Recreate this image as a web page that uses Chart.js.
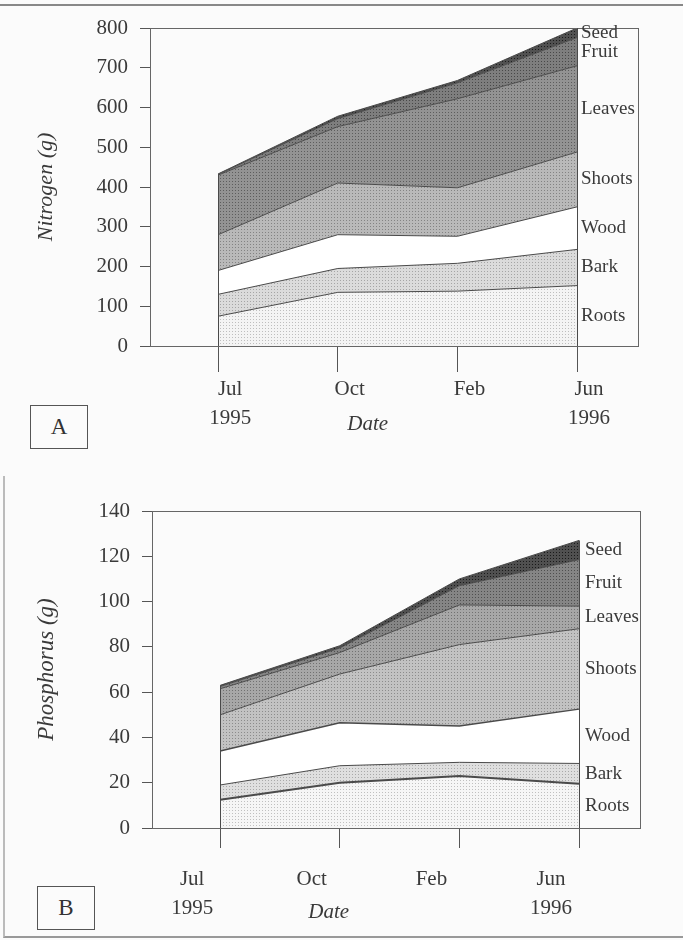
<!DOCTYPE html>
<html>
<head>
<meta charset="utf-8">
<script src="https://cdn.jsdelivr.net/npm/chart.js@4.4.0/dist/chart.umd.min.js"></script>
<style>
html,body{margin:0;padding:0;background:#fbfbfb;width:683px;height:940px;overflow:hidden;position:relative;}
canvas{position:absolute;left:0;}
#ca{top:0;}
#cb{top:470px;}
.ruleTop{position:absolute;left:0;top:4px;width:683px;height:0;border-top:2px solid #888;}
.frameB{position:absolute;left:3px;top:476px;width:700px;height:460px;border-left:2px solid #bbb;border-bottom:2px solid #999;}
.tag{position:absolute;border:1.5px solid #555;font:23px "Liberation Serif";color:#333;display:flex;align-items:center;justify-content:center;box-sizing:border-box;background:#fbfbfb;}
</style>
</head>
<body>
<div class="ruleTop"></div>
<div class="frameB"></div>
<canvas id="ca" width="683" height="470"></canvas>
<canvas id="cb" width="683" height="470"></canvas>
<div class="tag" style="left:30px;top:405px;width:58px;height:44px;">A</div>
<div class="tag" style="left:37px;top:886px;width:58px;height:44px;">B</div>
<script>
// ---- data ----
const categories = [['Jul','1995'],['Oct'],['Feb'],['Jun','1996']];
const seriesNames = ['Roots','Bark','Wood','Shoots','Leaves','Fruit','Seed'];

// Nitrogen (g), panel A
const nRoots  = [75, 135, 138, 152];
const nBark   = [55, 60, 70, 91];
const nWood   = [60, 85, 68, 107];
const nShoots = [90, 130, 122, 138];
const nLeaves = [150, 142, 224, 217];
const nFruit  = [2, 20, 40, 71];
const nSeed   = [1, 6, 6, 24];

// Phosphorus (g), panel B
const pRoots  = [12.5, 20, 23, 19.5];
const pBark   = [6.5, 7.5, 6, 9];
const pWood   = [15, 19, 16, 24];
const pShoots = [16, 21.5, 36, 35.5];
const pLeaves = [11.5, 9.5, 17.5, 10];
const pFruit  = [1, 2, 8.5, 20.5];
const pSeed   = [0.5, 1, 3, 8.5];

const nTicks = [0,100,200,300,400,500,600,700,800];
const pTicks = [0,20,40,60,80,100,120,140];

const greysA = [238, 213, 255, 179, 141, 120, 75];
const greysB = [240, 217, 255, 188, 161, 127, 74];

const SERIF = '"Liberation Serif", "DejaVu Serif", serif';
const INK = '#3a3a3a';
const LINE = '#555';

function grey(v) { v = Math.max(0, Math.min(255, Math.round(v))); return 'rgb(' + v + ',' + v + ',' + v + ')'; }
// fine halftone-like stipple whose mean tone equals the target grey
function stipple(v) {
  if (v >= 250) return '#ffffff';
  const c = document.createElement('canvas');
  c.width = 3; c.height = 3;
  const g = c.getContext('2d');
  const d = Math.min(48, v);
  g.fillStyle = grey(v + d / 8);
  g.fillRect(0, 0, 3, 3);
  g.fillStyle = grey(v - d);
  g.fillRect(1, 1, 1, 1);
  return g.createPattern(c, 'repeat');
}

function makeDatasets(series, greys, borderWidths) {
  return series.map((vals, k) => ({
    label: seriesNames[k],
    data: vals.map((v, i) => ({x: i, y: v})),
    backgroundColor: stipple(greys[k]),
    borderColor: '#4a4a4a',
    borderWidth: borderWidths[k],
    fill: k === 0 ? 'origin' : '-1',
    pointRadius: 0,
    tension: 0
  }));
}

const decor = {
  id: 'decor',
  afterDatasetsDraw(chart, args, opts) {
    const {ctx, chartArea: a, scales: {x, y}} = chart;
    const ds = chart.data.datasets;
    ctx.save();
    ctx.strokeStyle = '#666';
    ctx.lineWidth = 1;
    ctx.strokeRect(a.left + 0.5, a.top + 0.5, a.right - a.left, a.bottom - a.top);
    // vertical edges of the stacked areas
    ctx.strokeStyle = '#4a4a4a';
    [0, categories.length - 1].forEach(i => {
      let total = 0;
      ds.forEach(d => total += d.data[i].y);
      const px = Math.round(x.getPixelForValue(i)) + 0.5;
      ctx.beginPath();
      ctx.moveTo(px, y.getPixelForValue(0));
      ctx.lineTo(px, y.getPixelForValue(total));
      ctx.stroke();
    });
    // series names at the right end
    const last = categories.length - 1;
    ctx.font = '19px ' + SERIF;
    ctx.fillStyle = INK;
    ctx.textAlign = 'left';
    ctx.textBaseline = 'middle';
    let cum = 0;
    ds.forEach(d => {
      const v = d.data[last].y;
      ctx.fillText(d.label, x.getPixelForValue(last) + opts.nameDx, y.getPixelForValue(cum + v / 2));
      cum += v;
    });
    // axis title "Date"
    ctx.font = 'italic 21px ' + SERIF;
    ctx.textAlign = 'center';
    ctx.fillText('Date', x.getPixelForValue(1) + opts.dateDx, a.bottom + opts.dateDy);
    ctx.restore();
  }
};

function makeChart(id, series, greys, widths, yTitle, yMax, yStep, cfg) {
  return new Chart(document.getElementById(id), {
    type: 'line',
    data: {datasets: makeDatasets(series, greys, widths)},
    plugins: [decor],
    options: {
      responsive: false,
      animation: false,
      devicePixelRatio: 1,
      layout: {padding: {left: 0, right: cfg.padRight, top: cfg.padTop, bottom: 0}},
      plugins: {
        legend: {display: false},
        tooltip: {enabled: false},
        decor: {nameDx: cfg.nameDx, dateDx: cfg.dateDx, dateDy: cfg.dateDy}
      },
      scales: {
        x: {
          type: 'linear',
          min: -0.57,
          max: 3.51,
          afterBuildTicks: s => { s.ticks = categories.map((c, i) => ({value: i})); },
          afterFit: s => { s.height = cfg.xHeight; },
          border: {display: true, color: LINE, width: 1},
          grid: {drawOnChartArea: false, drawTicks: true, tickLength: cfg.xTick, tickColor: LINE},
          ticks: {
            callback: v => categories[v],
            autoSkip: false,
            maxRotation: 0,
            padding: cfg.xPad,
            labelOffset: cfg.labelOffset,
            color: INK,
            font: {family: SERIF, size: 21, lineHeight: 1.38}
          }
        },
        y: {
          stacked: true,
          min: 0,
          max: yMax,
          afterFit: s => { s.width = cfg.yWidth; },
          border: {display: true, color: LINE, width: 1},
          grid: {drawOnChartArea: false, drawTicks: true, tickLength: 10, tickColor: LINE},
          ticks: {stepSize: yStep, padding: 12, color: INK, font: {family: SERIF, size: 21}},
          title: {
            display: true,
            text: yTitle,
            color: INK,
            padding: {top: cfg.titlePad, bottom: 0},
            font: {family: SERIF, size: cfg.titleSize, style: 'italic'}
          }
        }
      }
    }
  });
}

makeChart('ca',
  [nRoots, nBark, nWood, nShoots, nLeaves, nFruit, nSeed],
  greysA, [1,1,1,1,1,1,1],
  'Nitrogen (g)', nTicks[nTicks.length - 1], nTicks[1] - nTicks[0],
  {padRight: 45, padTop: 28, xHeight: 124, xTick: 26, xPad: 3, labelOffset: 12,
   yWidth: 150, titlePad: 33, titleSize: 22, nameDx: 4, dateDx: 30, dateDy: 78});

makeChart('cb',
  [pRoots, pBark, pWood, pShoots, pLeaves, pFruit, pSeed],
  greysB, [2,1,1.5,1,1,1,1],
  'Phosphorus (g)', pTicks[pTicks.length - 1], pTicks[1] - pTicks[0],
  {padRight: 43, padTop: 41, xHeight: 112, xTick: 20, xPad: 17, labelOffset: -28,
   yWidth: 152, titlePad: 33, titleSize: 23, nameDx: 6, dateDx: -11, dateDy: 84});
</script>
</body>
</html>
